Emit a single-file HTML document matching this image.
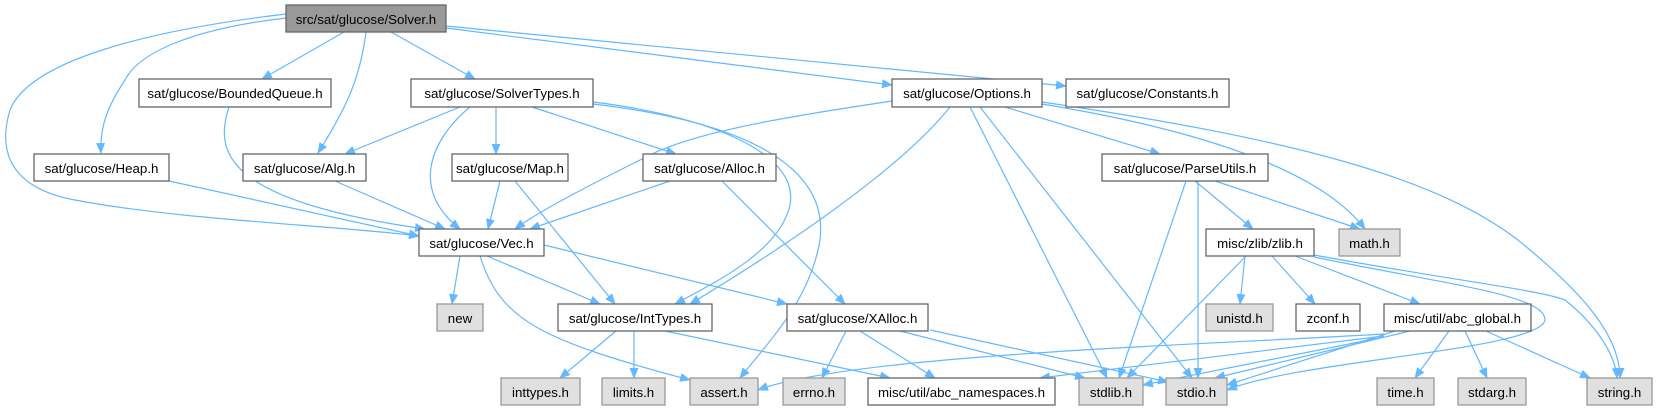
<!DOCTYPE html>
<html><head><meta charset="utf-8"><style>
html,body{margin:0;padding:0;background:#fff;}
svg{display:block;}
text{font-family:"Liberation Sans",Arial,sans-serif;font-size:13.3px;fill:#000;text-anchor:middle;}
.e{fill:none;stroke:#63b8ff;stroke-width:1.2;marker-end:url(#a);}
.n{fill:#fff;stroke:#666;stroke-width:1.3;}
.g{fill:#e0e0e0;stroke:#999;stroke-width:1.3;}
</style></head><body>
<svg width="1657" height="411" viewBox="0 0 1657 411" xmlns="http://www.w3.org/2000/svg">
<defs><marker id="a" markerWidth="11" markerHeight="9" refX="10" refY="4.5" orient="auto" markerUnits="userSpaceOnUse"><path d="M0,0 L11,4.5 L0,9 z" fill="#63b8ff"/></marker></defs>
<path class="e" d="M286,14 C150,30 30,60 10,110 C-5,160 20,190 75,200 C180,220 330,225 419,236"/>
<path class="e" d="M286,18 C200,28 140,50 125,80 C105,110 100,130 101,153"/>
<path class="e" d="M344,32 L262,79"/>
<path class="e" d="M366,32 C360,80 345,110 318,153"/>
<path class="e" d="M391,32 L475,79"/>
<path class="e" d="M446,28 L892,85"/>
<path class="e" d="M446,26 L1066,86"/>
<path class="e" d="M229,107 C215,150 220,200 425,229"/>
<path class="e" d="M169,181 L419,236"/>
<path class="e" d="M335,181 L445,229"/>
<path class="e" d="M460,107 L345,154"/>
<path class="e" d="M470,107 C430,140 410,190 460,229"/>
<path class="e" d="M496,107 L496,154"/>
<path class="e" d="M532,107 L676,154"/>
<path class="e" d="M593,102 C700,115 800,150 790,205 C780,250 720,280 675,304"/>
<path class="e" d="M593,104 C730,120 830,160 820,240 C810,300 770,340 740,378"/>
<path class="e" d="M892,101 C800,115 700,130 650,155 C600,180 540,210 515,229"/>
<path class="e" d="M950,107 C900,170 780,250 690,304"/>
<path class="e" d="M970,107 L1107,378"/>
<path class="e" d="M980,107 L1192,378"/>
<path class="e" d="M1005,107 L1160,154"/>
<path class="e" d="M1042,104 C1200,130 1320,170 1365,229"/>
<path class="e" d="M1042,102 C1300,140 1450,180 1530,250 C1590,300 1620,340 1620,378"/>
<path class="e" d="M1195,181 L1253,229"/>
<path class="e" d="M1215,181 L1360,229"/>
<path class="e" d="M1186,181 L1119,378"/>
<path class="e" d="M1198,181 L1198,378"/>
<path class="e" d="M500,181 L488,229"/>
<path class="e" d="M515,181 L615,304"/>
<path class="e" d="M670,181 L530,229"/>
<path class="e" d="M722,181 L845,304"/>
<path class="e" d="M460,256 L452,304"/>
<path class="e" d="M487,256 L600,304"/>
<path class="e" d="M480,256 C500,320 540,340 690,380"/>
<path class="e" d="M544,245 L787,304"/>
<path class="e" d="M616,331 L560,378"/>
<path class="e" d="M634,331 L634,378"/>
<path class="e" d="M665,331 L890,378"/>
<path class="e" d="M846,331 L822,378"/>
<path class="e" d="M860,331 L935,378"/>
<path class="e" d="M900,331 L1085,378"/>
<path class="e" d="M930,330 L1168,382"/>
<path class="e" d="M1245,256 L1240,304"/>
<path class="e" d="M1272,256 L1315,304"/>
<path class="e" d="M1295,256 L1420,304"/>
<path class="e" d="M1246,256 L1127,378"/>
<path class="e" d="M1314,255 C1450,280 1540,290 1565,300 C1590,320 1615,350 1617,378"/>
<path class="e" d="M1314,257 C1450,285 1545,295 1545,320 C1540,350 1300,360 1227,390"/>
<path class="e" d="M1384,334 C1200,345 850,355 758,390"/>
<path class="e" d="M1384,336 L1040,378"/>
<path class="e" d="M1384,337 L1143,385"/>
<path class="e" d="M1395,331 L1227,385"/>
<path class="e" d="M1410,331 L1215,378"/>
<path class="e" d="M1449,331 L1415,378"/>
<path class="e" d="M1465,331 L1487,378"/>
<path class="e" d="M1486,331 L1590,378"/>
<rect x="286" y="5" width="160" height="27" fill="#999" stroke="#666" stroke-width="1.3"/><text x="366" y="24">src/sat/glucose/Solver.h</text>
<rect class="n" x="139" y="79" width="192" height="28"/><text x="235" y="98">sat/glucose/BoundedQueue.h</text>
<rect class="n" x="411" y="79" width="182" height="28"/><text x="502" y="98">sat/glucose/SolverTypes.h</text>
<rect class="n" x="892" y="79" width="150" height="28"/><text x="967" y="98">sat/glucose/Options.h</text>
<rect class="n" x="1066" y="79" width="163" height="28"/><text x="1147.5" y="98">sat/glucose/Constants.h</text>
<rect class="n" x="34" y="154" width="135" height="27"/><text x="101.5" y="173">sat/glucose/Heap.h</text>
<rect class="n" x="243" y="154" width="123" height="27"/><text x="304.5" y="173">sat/glucose/Alg.h</text>
<rect class="n" x="452" y="154" width="116" height="27"/><text x="510" y="173">sat/glucose/Map.h</text>
<rect class="n" x="643" y="154" width="133" height="27"/><text x="709.5" y="173">sat/glucose/Alloc.h</text>
<rect class="n" x="1102" y="154" width="166" height="27"/><text x="1185" y="173">sat/glucose/ParseUtils.h</text>
<rect class="n" x="419" y="229" width="125" height="27"/><text x="481.5" y="248">sat/glucose/Vec.h</text>
<rect class="n" x="1206" y="229" width="108" height="27"/><text x="1260" y="248">misc/zlib/zlib.h</text>
<rect class="g" x="1339" y="229" width="61" height="27"/><text x="1369.5" y="248">math.h</text>
<rect class="g" x="437" y="304" width="46" height="27"/><text x="460" y="323">new</text>
<rect class="n" x="558" y="304" width="154" height="27"/><text x="635" y="323">sat/glucose/IntTypes.h</text>
<rect class="n" x="787" y="304" width="141" height="27"/><text x="857.5" y="323">sat/glucose/XAlloc.h</text>
<rect class="g" x="1206" y="304" width="67" height="27"/><text x="1239.5" y="323">unistd.h</text>
<rect class="n" x="1296" y="304" width="64" height="27"/><text x="1328" y="323">zconf.h</text>
<rect class="n" x="1384" y="304" width="147" height="27"/><text x="1457.5" y="323">misc/util/abc_global.h</text>
<rect class="g" x="501" y="378" width="79" height="27"/><text x="540.5" y="397">inttypes.h</text>
<rect class="g" x="602" y="378" width="63" height="27"/><text x="633.5" y="397">limits.h</text>
<rect class="g" x="690" y="378" width="68" height="27"/><text x="724" y="397">assert.h</text>
<rect class="g" x="783" y="378" width="62" height="27"/><text x="814" y="397">errno.h</text>
<rect class="n" x="868" y="378" width="187" height="27"/><text x="961.5" y="397">misc/util/abc_namespaces.h</text>
<rect class="g" x="1079" y="378" width="64" height="27"/><text x="1111" y="397">stdlib.h</text>
<rect class="g" x="1166" y="378" width="61" height="27"/><text x="1196.5" y="397">stdio.h</text>
<rect class="g" x="1377" y="378" width="57" height="27"/><text x="1405.5" y="397">time.h</text>
<rect class="g" x="1458" y="378" width="68" height="27"/><text x="1492" y="397">stdarg.h</text>
<rect class="g" x="1587" y="378" width="65" height="27"/><text x="1619.5" y="397">string.h</text>
</svg>
</body></html>
